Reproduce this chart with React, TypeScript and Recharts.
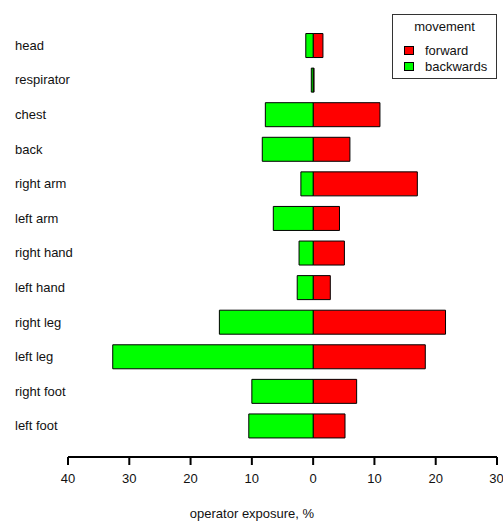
import React from 'react';
import { BarChart, Bar, XAxis, YAxis, Label } from 'recharts';

const parts = ['head', 'respirator', 'chest', 'back', 'right arm', 'left arm', 'right hand', 'left hand', 'right leg', 'left leg', 'right foot', 'left foot'];
const forward = [1.6, 0.15, 10.9, 6.0, 17.0, 4.3, 5.1, 2.8, 21.6, 18.3, 7.1, 5.2];
const backwards = [1.2, 0.3, 7.8, 8.3, 2.0, 6.5, 2.3, 2.6, 15.3, 32.7, 10.0, 10.5];
const xTicks = [-40, -30, -20, -10, 0, 10, 20, 30];
const movements = [
  { name: 'forward', color: '#ff0000' },
  { name: 'backwards', color: '#00ff00' },
];

const FONT = '"Liberation Sans", Arial, sans-serif';

// backwards exposure goes left of zero, so it is stored as a negative value
const rows = parts.map((part, i) => ({
  part,
  forward: forward[i],
  backwards: -backwards[i],
}));

const PartTick = (props: any) => {
  const { y, payload } = props;
  return (
    <text x={15} y={y} dy="0.35em" textAnchor="start" fontSize={13} fontFamily={FONT} fill="#111">
      {payload.value}
    </text>
  );
};

const MovementLegend = () => (
  <div style={{ position: 'absolute', top: 14, left: 392, width: 103, height: 63, border: '1px solid #333', background: '#fff', fontFamily: FONT, fontSize: 13, color: '#111' }}>
    <div style={{ position: 'absolute', top: 4, left: 0, width: '100%', textAlign: 'center' }}>movement</div>
    {movements.map((item, i) => (
      <div key={item.name} style={{ position: 'absolute', top: 28 + i * 16, left: 11, display: 'flex', alignItems: 'center' }}>
        <span style={{ width: 8, height: 7, background: item.color, border: '1px solid #000', display: 'inline-block' }} />
        <span style={{ marginLeft: 11, lineHeight: '15px' }}>{item.name}</span>
      </div>
    ))}
  </div>
);

const AxisTitle = () => (
  <text x={252} y={518} textAnchor="middle" fontSize={13} fontFamily={FONT} fill="#111">
    operator exposure, %
  </text>
);

export default function App() {
  return (
    <div style={{ position: 'absolute', left: 0, top: 0, width: 503, height: 521, background: '#fff' }}>
      <BarChart
        width={503}
        height={521}
        data={rows}
        layout="vertical"
        stackOffset="sign"
        barCategoryGap="16%"
        margin={{ top: 28, right: 6, bottom: 0, left: 0 }}
      >
        <XAxis
          type="number"
          domain={[-40, 30]}
          ticks={xTicks}
          allowDataOverflow
          height={64}
          tickFormatter={(v: number) => String(Math.abs(v))}
          axisLine={{ stroke: '#000', strokeWidth: 2 }}
          tickLine={{ stroke: '#000', strokeWidth: 2 }}
          tickSize={8}
          tickMargin={9}
          tick={{ fill: '#111', fontSize: 13, fontFamily: FONT }}
        >
          <Label content={<AxisTitle />} />
        </XAxis>
        <YAxis
          type="category"
          dataKey="part"
          width={68}
          axisLine={false}
          tickLine={false}
          padding={{ top: 0, bottom: 14 }}
          tick={<PartTick />}
        />
        <Bar dataKey="forward" stackId="a" fill={movements[0].color} stroke="#000" strokeWidth={1} isAnimationActive={false} />
        <Bar dataKey="backwards" stackId="a" fill={movements[1].color} stroke="#000" strokeWidth={1} isAnimationActive={false} />
      </BarChart>
      <MovementLegend />
    </div>
  );
}
